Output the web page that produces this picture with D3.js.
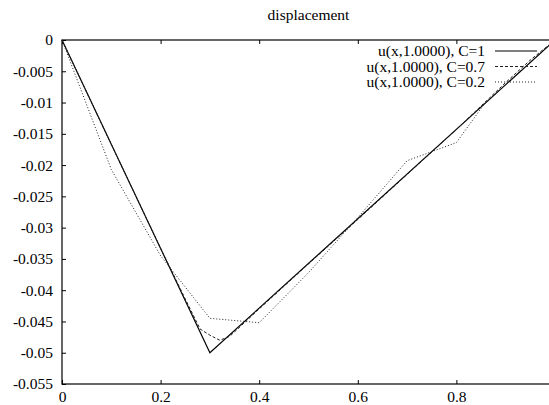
<!DOCTYPE html>
<html>
<head>
<meta charset="utf-8">
<script src="https://cdn.jsdelivr.net/npm/d3@7"></script>
<style>
  html, body { margin: 0; padding: 0; background: #fff; }
  svg { display: block; }
  text { font-family: "Liberation Serif", "DejaVu Serif", serif; fill: #000; }
</style>
</head>
<body>
<script>
// Displacement profiles u(x, t=1) for three Courant numbers
const xTicks = [0, 0.2, 0.4, 0.6, 0.8];
const yTicks = [0, -0.005, -0.01, -0.015, -0.02, -0.025, -0.03, -0.035, -0.04, -0.045, -0.05, -0.055];
const yTickLabels = ["0", "-0.005", "-0.01", "-0.015", "-0.02", "-0.025", "-0.03", "-0.035", "-0.04", "-0.045", "-0.05", "-0.055"];

const seriesNames = ["u(x,1.0000), C=1", "u(x,1.0000), C=0.7", "u(x,1.0000), C=0.2"];

const c1X = [0, 0.3, 1];
const c1Y = [0, -0.05, 0];

const c07X = [0, 0.1, 0.2, 0.25, 0.28, 0.3, 0.32, 0.34, 0.4, 0.5, 0.6, 0.7, 0.8, 0.9, 0.95, 1];
const c07Y = [0, -0.0167, -0.0333, -0.0414, -0.0462, -0.0472, -0.0480, -0.0474, -0.0430, -0.0358, -0.0287, -0.0215, -0.0143, -0.0068, -0.0032, 0];

const c02X = [0, 0.1, 0.2, 0.3, 0.4, 0.5, 0.6, 0.7, 0.8, 0.855, 0.9, 1];
const c02Y = [0, -0.0207, -0.0345, -0.0445, -0.0452, -0.0372, -0.0284, -0.0193, -0.0164, -0.0104, -0.0071, 0];

const W = 549, H = 405;
const mLeft = 62, mRight = 555, mTop = 40, mBottom = 384;

const svg = d3.select("body").append("svg").attr("width", W).attr("height", H);

const x = d3.scaleLinear().domain([0, 1]).range([mLeft, mRight]);
const y = d3.scaleLinear().domain([-0.055, 0]).range([mBottom, mTop]);

// frame
svg.append("rect")
  .attr("x", mLeft).attr("y", mTop)
  .attr("width", mRight - mLeft).attr("height", mBottom - mTop)
  .attr("fill", "none").attr("stroke", "#000").attr("stroke-width", 1.2);

const fmtY = d => yTickLabels[yTicks.indexOf(d)];

// axes with inward ticks on every side
const axisLeft = d3.axisLeft(y).tickValues(yTicks).tickFormat(fmtY).tickSizeInner(-4).tickSizeOuter(0).tickPadding(9);
const axisRight = d3.axisRight(y).tickValues(yTicks).tickFormat("").tickSizeInner(-4).tickSizeOuter(0);
const axisBottom = d3.axisBottom(x).tickValues(xTicks).tickFormat(d3.format("")).tickSizeInner(-4).tickSizeOuter(0).tickPadding(7);
const axisTop = d3.axisTop(x).tickValues(xTicks).tickFormat("").tickSizeInner(-4).tickSizeOuter(0);

function styleAxis(g) {
  g.select(".domain").remove();
  g.selectAll(".tick line").attr("stroke", "#000").attr("stroke-width", 1);
  g.selectAll(".tick text").attr("font-family", "Liberation Serif").attr("font-size", 15.5).attr("fill", "#000");
}

svg.append("g").attr("transform", `translate(${mLeft},0)`).call(axisLeft).call(styleAxis);
svg.append("g").attr("transform", `translate(${mRight},0)`).call(axisRight).call(styleAxis);
svg.append("g").attr("transform", `translate(0,${mBottom})`).call(axisBottom).call(styleAxis);
svg.append("g").attr("transform", `translate(0,${mTop})`).call(axisTop).call(styleAxis);

// title
svg.append("text")
  .attr("x", (mLeft + mRight) / 2).attr("y", 20)
  .attr("text-anchor", "middle").attr("font-size", 15.5)
  .text("displacement");

const line = d3.line().x(d => x(d[0])).y(d => y(d[1]));
const zip = (xs, ys) => xs.map((v, i) => [v, ys[i]]);

const styles = [
  { dash: null, color: "#000", width: 1.2 },
  { dash: "3,2", color: "#222", width: 1 },
  { dash: "1,2", color: "#222", width: 1 }
];
const data = [zip(c1X, c1Y), zip(c07X, c07Y), zip(c02X, c02Y)];

const plot = svg.append("g");
data.forEach((d, i) => {
  plot.append("path")
    .attr("d", line(d))
    .attr("fill", "none")
    .attr("stroke", styles[i].color)
    .attr("stroke-width", styles[i].width)
    .attr("stroke-dasharray", styles[i].dash);
});

// legend
const legend = svg.append("g");
seriesNames.forEach((name, i) => {
  const ly = 51 + i * 15.5;
  legend.append("text")
    .attr("x", 485).attr("y", ly + 5)
    .attr("text-anchor", "end").attr("font-size", 15.5)
    .text(name);
  legend.append("line")
    .attr("x1", 495).attr("x2", 537).attr("y1", ly).attr("y2", ly)
    .attr("stroke", styles[i].color)
    .attr("stroke-width", styles[i].width)
    .attr("stroke-dasharray", styles[i].dash);
});
</script>
</body>
</html>
